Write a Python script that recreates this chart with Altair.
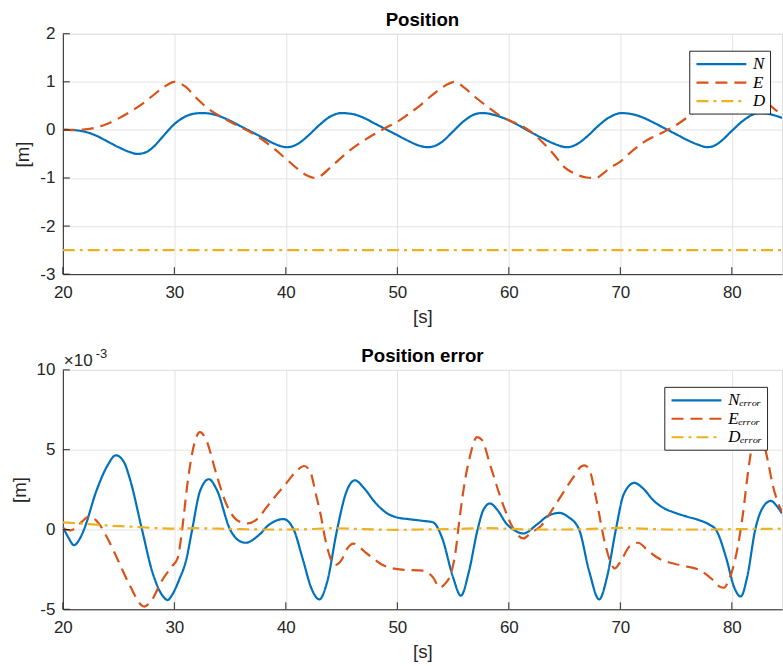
import altair as alt
import pandas as pd

# ---------------- Position (top panel) ----------------
t_N = [20, 21, 22, 23, 24, 25, 26, 26.7, 27.5, 28, 29, 30, 31, 32, 32.5, 33, 34, 35, 36, 37, 38, 39, 40.1,
       41, 42, 43, 44, 45, 46, 47, 48, 49, 50, 51, 52, 52.7, 53.5, 54, 55, 56, 57, 57.6, 58, 59, 60, 61, 62,
       63, 64, 65.2, 66, 67, 68, 69, 70.1, 71, 72, 73, 74, 75, 76, 77, 77.8, 78.5, 79, 80, 81, 82, 82.5, 83,
       84, 84.5]
v_N = [0.0, -0.005, -0.04, -0.12, -0.24, -0.36, -0.46, -0.5, -0.46, -0.38, -0.13, 0.12, 0.28, 0.345, 0.35,
       0.345, 0.29, 0.19, 0.07, -0.05, -0.17, -0.29, -0.36,
       -0.3, -0.12, 0.1, 0.28, 0.35, 0.33, 0.25, 0.13, 0.01, -0.11, -0.23, -0.33, -0.36, -0.32, -0.25, -0.03,
       0.19, 0.33, 0.35, 0.345, 0.29, 0.2, 0.08, -0.05,
       -0.17, -0.28, -0.36, -0.31, -0.14, 0.08, 0.26, 0.35, 0.33, 0.26, 0.15, 0.03, -0.09, -0.21, -0.31, -0.36,
       -0.32, -0.24, -0.02, 0.19, 0.33, 0.35, 0.345, 0.29, 0.25]

t_E = [20, 21, 22, 23, 24, 25, 26, 27, 28, 29, 30, 31, 32, 33, 34, 35, 36, 37, 38, 39, 40, 41, 42, 42.6, 43,
       44, 45, 46, 47, 48, 49, 50, 51, 52, 53, 54, 55.2, 56, 57, 58, 59, 60, 61, 62, 63, 64, 65, 66, 67, 67.8,
       68.5, 69, 70, 71, 72, 73, 74, 75, 76, 77, 78, 79, 80.3, 81, 82, 83, 84, 84.5]
v_E = [0.0, 0.0, 0.01, 0.05, 0.13, 0.24, 0.37, 0.52, 0.7, 0.88, 1.0, 0.9, 0.66, 0.45, 0.3, 0.17, 0.05, -0.07,
       -0.22, -0.4, -0.6, -0.8, -0.96, -1.0, -0.97,
       -0.78, -0.57, -0.38, -0.22, -0.08, 0.05, 0.17, 0.33, 0.5, 0.7, 0.88, 1.0, 0.88, 0.68, 0.5, 0.33, 0.2, 0.1,
       -0.04, -0.25, -0.5, -0.78, -0.92, -0.99, -1.0,
       -0.9, -0.8, -0.66, -0.45, -0.27, -0.14, -0.03, 0.1, 0.26, 0.43, 0.63, 0.83, 1.0, 0.95, 0.8, 0.6, 0.4, 0.32]

t_D = [20, 84.5]
v_D = [-2.5, -2.5]

# ---------------- Position error (bottom panel, x 1e-3) ----------------
t_Ne = [20, 20.5, 21.0, 21.5, 21.9, 23, 24, 24.75, 25.5, 26, 27.1, 28, 29, 29.4, 29.8, 30.4, 31.1, 31.6,
        32.3, 33.1, 33.8, 35, 35.8, 36.4, 37.5, 38.5, 39.8, 40.7, 41.5, 42.3, 43, 43.7, 44.6, 45.4, 46.2, 47,
        48, 49, 50, 51, 52.3, 53.2, 54, 55, 55.7, 56.4, 57.2, 57.7, 58.3, 59, 59.8, 60.4, 61.3, 62.5, 63.5,
        64.55, 65.3, 66.3, 67.2, 68.1, 68.8, 69.6, 70.3, 71.25, 72, 73, 74, 74.7, 76, 77.1, 78, 78.6, 79.5,
        80.2, 80.8, 81.4, 82.1, 82.8, 83.5, 84, 84.5]
v_Ne = [0.17, -0.5, -0.98, -0.6, 0.0, 2.4, 4.0, 4.65, 4.2, 3.2, 0.0, -2.6, -4.2, -4.42, -4.1, -3.2, -1.8, 0.0,
        2.4, 3.15, 2.5, 0.0, -0.7, -0.83, -0.4, 0.3, 0.65, 0.0, -1.8, -3.7, -4.38, -3.3, 0.0, 2.3, 3.08, 2.6,
        1.7, 1.05, 0.75, 0.65, 0.54, 0.45, -0.5, -3.0, -4.15, -2.7, 0.0, 1.2, 1.63, 1.2, 0.35, 0.0, -0.25, 0.3,
        0.85, 1.04, 0.8, 0.0, -2.6, -4.38, -3.0, 0.0, 2.2, 2.92, 2.6, 1.8, 1.3, 1.1, 0.8, 0.58, 0.3, -0.04, -1.8,
        -3.6, -4.2, -2.9, 0.0, 1.4, 1.79, 1.5, 1.0]

t_Ee = [20, 20.7, 21.5, 22.4, 23.2, 24, 25, 26, 27.3, 28, 28.8, 29.8, 30.3, 30.7, 31.2, 31.8, 32.3, 32.8,
        33.8, 34.6, 35.3, 36, 36.6, 37.5, 38.3, 39.2, 40.1, 41, 41.65, 42.2, 42.7, 43.1, 43.6, 44.4, 45, 45.5,
        46.05, 46.6, 47.25, 48, 48.7, 50.2, 52.3, 53.2, 53.8, 54.4, 54.7, 55.2, 55.6, 56.1, 56.5, 57.15, 57.6,
        58.3, 59.5, 60.4, 61.3, 62, 62.8, 64.25, 65.7, 66.5, 66.8, 67.3, 67.8, 68.7, 69.5, 70.1, 70.8, 71.6,
        72.3, 73.2, 75.3, 77.1, 78.2, 78.9, 79.3, 79.7, 80.05, 80.5, 81.0, 81.4, 81.8, 82.3, 82.8, 83.2, 83.7,
        84.5]
v_Ee = [0.06, -0.06, 0.35, 0.82, 0.4, -0.55, -2.0, -3.5, -4.83, -4.4, -3.3, -2.3, -1.8, 0.0, 3.0, 5.4, 6.1,
        5.7, 3.4, 1.7, 0.8, 0.45, 0.38, 0.7, 1.42, 2.2, 2.95, 3.7, 3.98, 3.6, 2.2, 1.0, -0.8, -2.23, -1.9, -1.2,
        -0.88, -1.1, -1.5, -1.9, -2.23, -2.5, -2.58, -3.0, -3.63, -3.3, -2.96, -1.5, 0.8, 3.2, 4.54, 5.79, 5.6,
        4.1, 1.52, 0.06, -0.56, -0.2, 0.17, 1.63, 3.19, 3.95, 4.02, 3.6, 2.04, -1.08, -2.44, -1.9, -1.08, -0.83,
        -1.2, -1.71, -2.23, -2.54, -3.1, -3.58, -3.65, -3.2, -2.54, -1.2, 1.0, 3.3, 5.2, 6.2, 5.6, 4.4, 2.7,
        1.1]

t_De = [20, 22, 24, 26, 28, 30, 32, 34, 36, 38, 40, 42, 44, 46, 48, 50, 52, 55, 58, 60, 62, 65, 68, 70, 72,
        75, 78, 80, 84.5]
v_De = [0.45, 0.35, 0.25, 0.18, 0.1, 0.05, 0.08, 0.05, 0.02, 0.0, 0.0, 0.02, 0.08, 0.05, 0.0, -0.02, 0.0,
        0.03, 0.08, 0.05, 0.0, 0.0, 0.05, 0.1, 0.05, 0.0, 0.0, 0.02, 0.05]

names_top = ["N", "E", "D"]
names_err = ["Nₑᵣᵣₒᵣ", "Eₑᵣᵣₒᵣ", "Dₑᵣᵣₒᵣ"]
colors = ["#0072BD", "#D95319", "#EDB120"]
dashes = [[1, 0], [12, 7], [12, 5, 3, 5]]

x_ticks = [20, 30, 40, 50, 60, 70, 80]
y_ticks_top = [-3, -2, -1, 0, 1, 2]
y_ticks_err = [-5, 0, 5, 10]


def frame(series, names):
    rows = []
    for (ts, vs), name in zip(series, names):
        for i, (t, v) in enumerate(zip(ts, vs)):
            rows.append({"t": t, "v": v, "s": name, "o": i})
    return pd.DataFrame(rows)


df_top = frame([(t_N, v_N), (t_E, v_E), (t_D, v_D)], names_top)
df_err = frame([(t_Ne, v_Ne), (t_Ee, v_Ee), (t_De, v_De)], names_err)

AX_FONT = "Liberation Sans"
GRID = "#e3e3e3"
AXC = "#262626"


def legend(x, y):
    return alt.Legend(
        title=None, orient="none", legendX=x, legendY=y,
        fillColor="white", strokeColor=AXC, padding=4,
        symbolType="M-1,0H5.06", symbolSize=272, symbolStrokeWidth=2.2, symbolOffset=2,
        labelFont="Liberation Serif", labelFontStyle="italic", labelFontSize=17, labelColor="black",
        labelOffset=39, rowPadding=0.5,
    )


def panel(df, names, ydom, yticks, lx, ly, h):
    xscale = alt.Scale(domain=[20, 84.5], nice=False, zero=False)
    yscale = alt.Scale(domain=ydom, nice=False, zero=False)
    xax = alt.Axis(values=x_ticks, title="[s]", labelFont=AX_FONT, labelFontSize=17, labelColor=AXC,
                   titleFont=AX_FONT, titleFontSize=18.7, titleFontWeight="normal", titleColor=AXC,
                   ticks=False, labelPadding=10, titlePadding=7.5, grid=True, gridColor=GRID,
                   domainColor=AXC, domainWidth=1, labelFlush=False)
    yax = alt.Axis(values=yticks, title="[m]", labelFont=AX_FONT, labelFontSize=17, labelColor=AXC,
                   titleFont=AX_FONT, titleFontSize=18.7, titleFontWeight="normal", titleColor=AXC,
                   ticks=False, labelPadding=8, titlePadding=7, grid=True, gridColor=GRID,
                   domainColor=AXC, domainWidth=1, labelFlush=False, labelExpr="'' + datum.value")
    lines = alt.Chart(df).mark_line(strokeWidth=2.2, interpolate="monotone", clip=True).encode(
        x=alt.X("t:Q", scale=xscale, axis=xax),
        y=alt.Y("v:Q", scale=yscale, axis=yax),
        color=alt.Color("s:N", scale=alt.Scale(domain=names, range=colors), legend=legend(lx, ly)),
        strokeDash=alt.StrokeDash("s:N", scale=alt.Scale(domain=names, range=dashes), legend=legend(lx, ly)),
        order="o:Q",
    )
    # inward tick marks (MATLAB style)
    xt = alt.Chart(pd.DataFrame({"t": x_ticks})).mark_rule(color=AXC, strokeWidth=1).encode(
        x=alt.X("t:Q", scale=xscale), y=alt.value(h), y2=alt.value(h - 7))
    yt = alt.Chart(pd.DataFrame({"v": yticks})).mark_rule(color=AXC, strokeWidth=1).encode(
        y=alt.Y("v:Q", scale=yscale), x=alt.value(0), x2=alt.value(7))
    return [lines, xt, yt]


def title(text, off):
    return alt.TitleParams(text, font=AX_FONT, fontSize=18.7, fontWeight="bold", color="black",
                           anchor="middle", baseline="alphabetic", offset=off)


top = alt.layer(*panel(df_top, names_top, [-3, 2], y_ticks_top, 628, 17, 241)).properties(
    width=721, height=241, title=title("Position", -20))

exp_df = pd.DataFrame({"txt": ["×10"]})
exp_df2 = pd.DataFrame({"txt": ["-3"]})
mult = alt.Chart(exp_df).mark_text(font=AX_FONT, fontSize=17, color=AXC, align="left",
                                   baseline="alphabetic").encode(
    x=alt.value(1), y=alt.value(-4), text="txt:N")
expo = alt.Chart(exp_df2).mark_text(font=AX_FONT, fontSize=13, color=AXC, align="left",
                                    baseline="alphabetic").encode(
    x=alt.value(33), y=alt.value(-12), text="txt:N")

bottom = alt.layer(*panel(df_err, names_err, [-5, 10], y_ticks_err, 603, 17, 240), mult, expo).properties(
    width=721, height=240, title=title("Position error", -33))

chart = alt.vconcat(top, bottom, spacing=19).resolve_scale(
    color="independent", strokeDash="independent"
).resolve_legend(color="independent", strokeDash="independent").properties(
    padding={"left": 9, "top": 9, "right": 0, "bottom": 0}
).configure_view(stroke="transparent").configure(background="white")

chart.save("out.html", embed_options={"renderer": "svg", "actions": False})
